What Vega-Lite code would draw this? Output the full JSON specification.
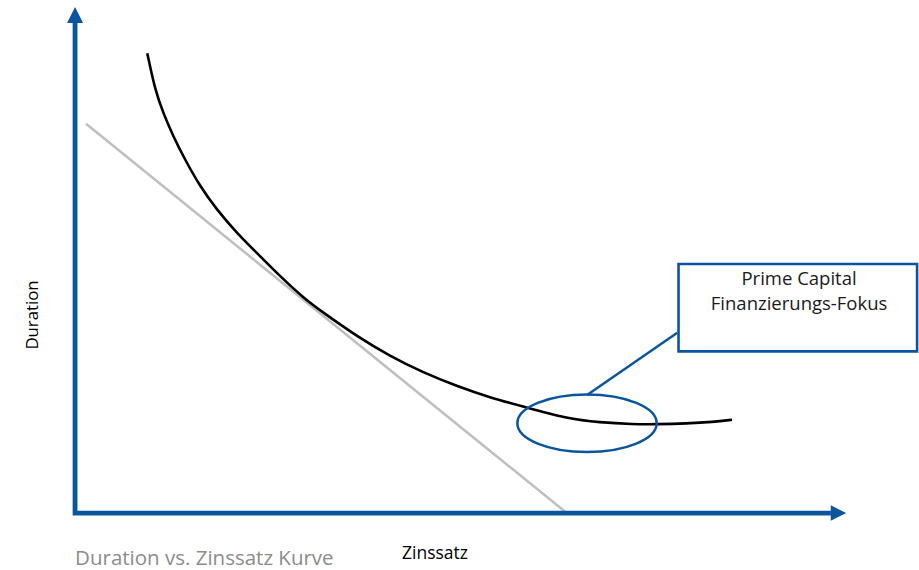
{
  "$schema": "https://vega.github.io/schema/vega-lite/v6.json",
  "width": 919,
  "height": 570,
  "autosize": {"type": "fit", "contains": "padding"},
  "padding": 0,
  "background": "white",
  "config": {"view": {"stroke": null}},
  "datasets": {
    "curve": [
      {"x": 9.43, "y": 90.53}, {"x": 10.44, "y": 83.32}, {"x": 11.52, "y": 78.74}, {"x": 12.83, "y": 74.14},
      {"x": 14.36, "y": 69.57}, {"x": 16.32, "y": 64.32}, {"x": 18.5, "y": 59.74}, {"x": 21.11, "y": 55.16},
      {"x": 23.72, "y": 51.23}, {"x": 26.76, "y": 46.63}, {"x": 29.81, "y": 42.39}, {"x": 32.42, "y": 39.44},
      {"x": 36.78, "y": 34.84}, {"x": 41.13, "y": 30.91}, {"x": 45.48, "y": 27.65}, {"x": 49.84, "y": 25.02},
      {"x": 54.19, "y": 22.74}, {"x": 58.53, "y": 20.97}, {"x": 64.2, "y": 18.61}, {"x": 68.55, "y": 17.83},
      {"x": 72.86, "y": 17.49}, {"x": 75.95, "y": 17.49}, {"x": 79.87, "y": 17.63}, {"x": 83.31, "y": 17.94},
      {"x": 85.79, "y": 18.38}
    ],
    "tangent": [{"x": 1.43, "y": 76.64}, {"x": 64.11, "y": 0.14}],
    "axes": [{"x": 0, "y": 96.5, "o": 1}, {"x": 0, "y": 0, "o": 2}, {"x": 98.7, "y": 0, "o": 3}],
    "arrowUp": [{"x": 0, "y": 98.06}],
    "arrowRight": [{"x": 99.69, "y": 0}],
    "ellipse": [{"x": 66.85, "y": 17.69}],
    "connector": [{"x": 66.81, "y": 23.19}, {"x": 78.64, "y": 35.51}],
    "box": [{"x": 78.8, "x2": 109.95, "y": 49.03, "y2": 31.84}],
    "boxText": [
      {"x": 94.54, "y": 45.0, "t": "Prime Capital\nFinanzierungs-Fokus"}
    ],
    "yTitle": [{"x": -5.49, "y": 39.0, "t": "Duration"}],
    "xTitle": [{"x": 47.0, "y": -9.03, "t": "Zinssatz"}],
    "caption": [{"x": 0, "y": -10.31, "t": "Duration vs. Zinssatz Kurve"}]
  },
  "encoding": {
    "x": {"field": "x", "type": "quantitative", "scale": {"domain": [-9.8, 110.2], "nice": false, "zero": false}, "axis": null},
    "y": {"field": "y", "type": "quantitative", "scale": {"domain": [-11, 101], "nice": false, "zero": false}, "axis": null}
  },
  "layer": [
    {
      "data": {"name": "tangent"},
      "mark": {"type": "line", "color": "#bfbfbf", "strokeWidth": 2.5}
    },
    {
      "data": {"name": "curve"},
      "mark": {"type": "line", "color": "#000000", "strokeWidth": 2.6, "interpolate": "basis"}
    },
    {
      "data": {"name": "axes"},
      "mark": {"type": "line", "color": "#0b559f", "strokeWidth": 4.8, "strokeJoin": "miter"},
      "encoding": {"order": {"field": "o", "type": "quantitative"}}
    },
    {
      "data": {"name": "arrowUp"},
      "mark": {"type": "point", "shape": "M0,-1L-1,1L1,1Z", "filled": true, "color": "#0b559f", "opacity": 1, "size": 256}
    },
    {
      "data": {"name": "arrowRight"},
      "mark": {"type": "point", "shape": "M1,0L-1,-1L-1,1Z", "filled": true, "color": "#0b559f", "opacity": 1, "size": 240}
    },
    {
      "data": {"name": "ellipse"},
      "mark": {"type": "point", "shape": "M-1,0A1,0.413 0 1,0 1,0A1,0.413 0 1,0 -1,0Z", "filled": false, "stroke": "#0b559f", "strokeWidth": 2.5, "opacity": 1, "size": 19432}
    },
    {
      "data": {"name": "connector"},
      "mark": {"type": "line", "color": "#0b559f", "strokeWidth": 2.5}
    },
    {
      "data": {"name": "box"},
      "mark": {"type": "rect", "fill": "white", "stroke": "#0b559f", "strokeWidth": 2.6},
      "encoding": {
        "x2": {"field": "x2"},
        "y2": {"field": "y2"}
      }
    },
    {
      "data": {"name": "boxText"},
      "mark": {"type": "text", "font": "Open Sans", "fontSize": 18.5, "lineBreak": "\n", "lineHeight": 25.5, "color": "#1a1a1a", "align": "center", "baseline": "alphabetic"},
      "encoding": {"text": {"field": "t"}}
    },
    {
      "data": {"name": "yTitle"},
      "mark": {"type": "text", "font": "Open Sans", "fontSize": 16.8, "color": "#000000", "align": "center", "baseline": "middle", "angle": 270},
      "encoding": {"text": {"field": "t"}}
    },
    {
      "data": {"name": "xTitle"},
      "mark": {"type": "text", "font": "Open Sans", "fontSize": 17.5, "color": "#000000", "align": "center", "baseline": "alphabetic"},
      "encoding": {"text": {"field": "t"}}
    },
    {
      "data": {"name": "caption"},
      "mark": {"type": "text", "font": "Open Sans", "fontSize": 20.5, "color": "#8c8c8c", "align": "left", "baseline": "alphabetic"},
      "encoding": {"text": {"field": "t"}}
    }
  ]
}
